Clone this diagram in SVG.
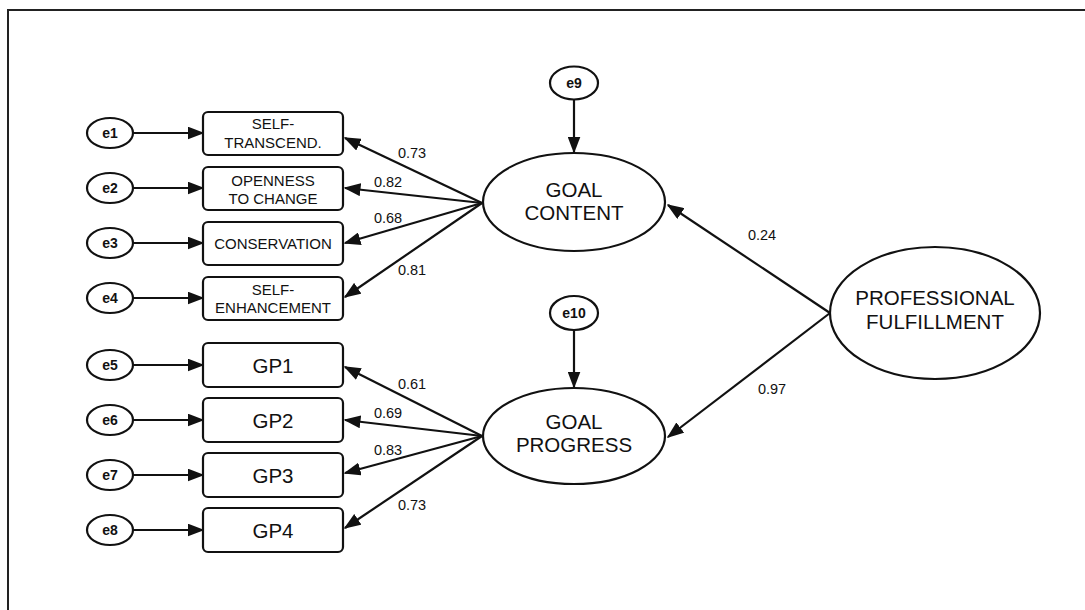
<svg xmlns="http://www.w3.org/2000/svg" width="1085" height="610" viewBox="0 0 1085 610">
  <style>
    .shape { fill: #fff; stroke: #111; stroke-width: 2.2; }
    .edge { fill: none; stroke: #111; stroke-width: 2.2; marker-end: url(#arrow); }
    .t { font-family: "Liberation Sans", Arial, sans-serif; fill: #111; text-anchor: middle; }
    .err { font-size: 14px; font-weight: bold; }
    .ind { font-size: 15px; }
    .gp { font-size: 20.5px; }
    .lat { font-size: 20.5px; }
    .w { font-size: 14.5px; }
  </style>
  <defs>
    <marker id="arrow" viewBox="0 0 17 13" refX="15.5" refY="6.5" markerWidth="17" markerHeight="13" markerUnits="userSpaceOnUse" orient="auto">
      <path d="M0,0 L17,6.5 L0,13 z" fill="#111"/>
    </marker>
  </defs>

  <rect x="0" y="0" width="1085" height="610" fill="#fff"/>
  <!-- outer frame -->
  <rect x="8" y="10" width="1100" height="620" fill="none" stroke="#222" stroke-width="2"/>

  <!-- connectors -->
  <g id="connectors">
    <!-- residuals to indicators -->
    <line class="edge" x1="133" y1="133" x2="203" y2="133"/>
    <line class="edge" x1="133" y1="188" x2="203" y2="188"/>
    <line class="edge" x1="133" y1="243" x2="203" y2="243"/>
    <line class="edge" x1="133" y1="298" x2="203" y2="298"/>
    <line class="edge" x1="133" y1="365" x2="203" y2="365"/>
    <line class="edge" x1="133" y1="420" x2="203" y2="420"/>
    <line class="edge" x1="133" y1="475" x2="203" y2="475"/>
    <line class="edge" x1="133" y1="530" x2="203" y2="530"/>
    <!-- goal content loadings -->
    <line class="edge" x1="482" y1="203" x2="345" y2="138"/>
    <line class="edge" x1="482" y1="203" x2="345" y2="188"/>
    <line class="edge" x1="482" y1="203" x2="345" y2="243"/>
    <line class="edge" x1="482" y1="203" x2="345" y2="297"/>
    <!-- goal progress loadings -->
    <line class="edge" x1="482" y1="436" x2="345" y2="367"/>
    <line class="edge" x1="482" y1="436" x2="345" y2="420"/>
    <line class="edge" x1="482" y1="436" x2="345" y2="473"/>
    <line class="edge" x1="482" y1="436" x2="345" y2="528"/>
    <!-- disturbances -->
    <line class="edge" x1="574" y1="99" x2="574" y2="152"/>
    <line class="edge" x1="574" y1="330" x2="574" y2="387"/>
    <!-- structural paths -->
    <line class="edge" x1="830" y1="313" x2="668" y2="205"/>
    <line class="edge" x1="830" y1="313" x2="668" y2="437"/>
    <!-- weights -->
    <text class="t w" x="412" y="158">0.73</text>
    <text class="t w" x="388" y="187">0.82</text>
    <text class="t w" x="388" y="223">0.68</text>
    <text class="t w" x="412" y="275">0.81</text>
    <text class="t w" x="412" y="389">0.61</text>
    <text class="t w" x="388" y="418">0.69</text>
    <text class="t w" x="388" y="455">0.83</text>
    <text class="t w" x="412" y="510">0.73</text>
    <text class="t w" x="762" y="240">0.24</text>
    <text class="t w" x="772" y="394">0.97</text>
  </g>

  <!-- residual terms -->
  <g id="e1"><ellipse class="shape" cx="110" cy="133" rx="23" ry="15"/><text class="t err" x="110" y="138">e1</text></g>
  <g id="e2"><ellipse class="shape" cx="110" cy="188" rx="23" ry="15"/><text class="t err" x="110" y="193">e2</text></g>
  <g id="e3"><ellipse class="shape" cx="110" cy="243" rx="23" ry="15"/><text class="t err" x="110" y="248">e3</text></g>
  <g id="e4"><ellipse class="shape" cx="110" cy="298" rx="23" ry="15"/><text class="t err" x="110" y="303">e4</text></g>
  <g id="e5"><ellipse class="shape" cx="110" cy="365" rx="23" ry="15"/><text class="t err" x="110" y="370">e5</text></g>
  <g id="e6"><ellipse class="shape" cx="110" cy="420" rx="23" ry="15"/><text class="t err" x="110" y="425">e6</text></g>
  <g id="e7"><ellipse class="shape" cx="110" cy="475" rx="23" ry="15"/><text class="t err" x="110" y="480">e7</text></g>
  <g id="e8"><ellipse class="shape" cx="110" cy="530" rx="23" ry="15"/><text class="t err" x="110" y="535">e8</text></g>
  <g id="e9"><ellipse class="shape" cx="574" cy="83" rx="24" ry="16.5"/><text class="t err" x="574" y="88">e9</text></g>
  <g id="e10"><ellipse class="shape" cx="574" cy="313" rx="24" ry="17"/><text class="t err" x="574" y="318">e10</text></g>

  <!-- observed indicators -->
  <g id="self-transcendence"><rect class="shape" x="203" y="112" width="140" height="43" rx="5"/><text class="t ind" x="273" y="128.5">SELF-</text><text class="t ind" x="273" y="147.5">TRANSCEND.</text></g>
  <g id="openness"><rect class="shape" x="203" y="167" width="140" height="43" rx="5"/><text class="t ind" x="273" y="185.5">OPENNESS</text><text class="t ind" x="273" y="203.5">TO CHANGE</text></g>
  <g id="conservation"><rect class="shape" x="203" y="222" width="140" height="43" rx="5"/><text class="t ind" x="273" y="249">CONSERVATION</text></g>
  <g id="self-enhancement"><rect class="shape" x="203" y="277" width="140" height="43" rx="5"/><text class="t ind" x="273" y="294.5">SELF-</text><text class="t ind" x="273" y="312.5">ENHANCEMENT</text></g>
  <g id="gp1"><rect class="shape" x="203" y="343" width="140" height="44" rx="5"/><text class="t gp" x="273" y="372.5">GP1</text></g>
  <g id="gp2"><rect class="shape" x="203" y="398" width="140" height="44" rx="5"/><text class="t gp" x="273" y="427.5">GP2</text></g>
  <g id="gp3"><rect class="shape" x="203" y="453" width="140" height="44" rx="5"/><text class="t gp" x="273" y="482.5">GP3</text></g>
  <g id="gp4"><rect class="shape" x="203" y="508" width="140" height="44" rx="5"/><text class="t gp" x="273" y="537.5">GP4</text></g>

  <!-- latent constructs -->
  <g id="goal-content"><ellipse class="shape" cx="574" cy="202" rx="91" ry="49"/><text class="t lat" x="574" y="197">GOAL</text><text class="t lat" x="574" y="220">CONTENT</text></g>
  <g id="goal-progress"><ellipse class="shape" cx="574" cy="436" rx="91" ry="48"/><text class="t lat" x="574" y="429">GOAL</text><text class="t lat" x="574" y="452">PROGRESS</text></g>
  <g id="professional-fulfillment"><ellipse class="shape" cx="935" cy="313" rx="105" ry="66"/><text class="t lat" x="935" y="305">PROFESSIONAL</text><text class="t lat" x="935" y="329">FULFILLMENT</text></g>
</svg>
